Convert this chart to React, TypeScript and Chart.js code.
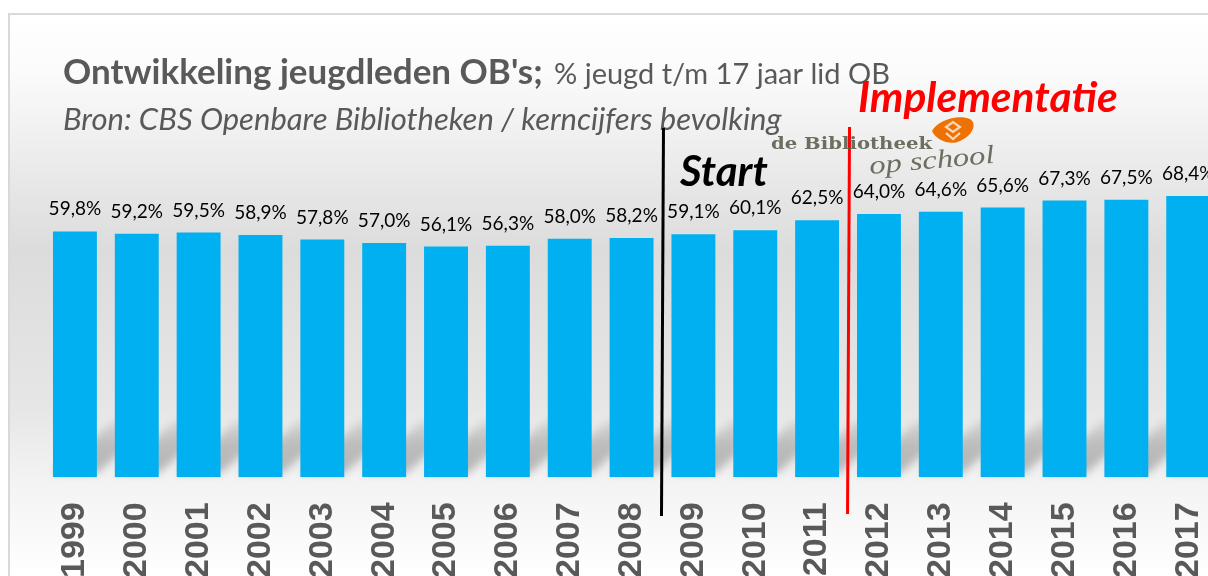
import React, { useEffect, useRef } from "react";
import { Chart, registerables } from "chart.js";

Chart.register(...registerables);

const years = ["1999","2000","2001","2002","2003","2004","2005","2006","2007","2008","2009","2010","2011","2012","2013","2014","2015","2016","2017"];
const percentages = [59.8,59.2,59.5,58.9,57.8,57.0,56.1,56.3,58.0,58.2,59.1,60.1,62.5,64.0,64.6,65.6,67.3,67.5,68.4];
const titleBold = "Ontwikkeling jeugdleden OB's;";
const titleLight = "% jeugd t/m 17 jaar lid OB";
const sourceLine = "Bron: CBS Openbare Bibliotheken / kerncijfers bevolking";
const startLabel = "Start";
const implementationLabel = "Implementatie";
const logoName = "de Bibliotheek";
const logoSub = "op school";
const startLinePosition = 9.5;
const implementationLinePosition = 12.5;

const SANS = "Lato, 'Open Sans', sans-serif";

const decorations = {
  id: "decorations",
  beforeDraw(chart: any) {
    const { ctx } = chart;
    ctx.save();
    ctx.fillStyle = "#ffffff";
    ctx.fillRect(0, 0, chart.width, chart.height);
    const g = ctx.createLinearGradient(0, 15, 0, 576);
    g.addColorStop(0, "#ffffff");
    g.addColorStop(0.1, "#fbfbfb");
    g.addColorStop(0.42, "#dcdcdc");
    g.addColorStop(0.7, "#e6e6e6");
    g.addColorStop(0.83, "#f3f3f3");
    g.addColorStop(1, "#ffffff");
    ctx.fillStyle = g;
    ctx.fillRect(9, 14, chart.width, chart.height);
    ctx.strokeStyle = "#d9d9d9";
    ctx.lineWidth = 2;
    ctx.beginPath();
    ctx.moveTo(9, chart.height);
    ctx.lineTo(9, 14);
    ctx.lineTo(chart.width, 14);
    ctx.stroke();
    ctx.restore();
  },
  beforeDatasetsDraw(chart: any) {
    const { ctx } = chart;
    const bars = chart.getDatasetMeta(0).data;
    ctx.save();
    ctx.filter = "blur(4px)";
    bars.forEach((b: any) => {
      const left = b.x - b.width / 2;
      const right = b.x + b.width / 2;
      const g = ctx.createLinearGradient(0, b.base, 0, b.base - 56);
      g.addColorStop(0, "rgba(0,0,0,0.26)");
      g.addColorStop(0.6, "rgba(0,0,0,0.2)");
      g.addColorStop(1, "rgba(0,0,0,0.08)");
      ctx.fillStyle = g;
      ctx.beginPath();
      ctx.moveTo(left, b.base - 4);
      ctx.lineTo(right, b.base - 4);
      ctx.lineTo(right + 60, b.base - 56);
      ctx.lineTo(left + 60, b.base - 56);
      ctx.closePath();
      ctx.fill();
    });
    ctx.restore();
  },
  afterDatasetsDraw(chart: any) {
    const { ctx, scales } = chart;
    const bars = chart.getDatasetMeta(0).data;
    ctx.save();
    ctx.textBaseline = "alphabetic";
    ctx.textAlign = "center";
    ctx.fillStyle = "#000000";
    ctx.font = `19px ${SANS}`;
    bars.forEach((b: any, i: number) => {
      ctx.fillText(percentages[i].toFixed(1).replace(".", ",") + "%", b.x, b.y - 16);
    });

    ctx.textAlign = "left";
    ctx.fillStyle = "#595959";
    ctx.font = `bold 35px ${SANS}`;
    ctx.fillText(titleBold, 63, 84);
    ctx.font = `29px ${SANS}`;
    ctx.fillText(titleLight, 554, 84);
    ctx.font = `italic 31px ${SANS}`;
    ctx.fillText(sourceLine, 63, 130);

    const xStart = scales.x.getPixelForValue(startLinePosition);
    const xImpl = scales.x.getPixelForValue(implementationLinePosition);
    ctx.lineWidth = 3;
    ctx.strokeStyle = "#000000";
    ctx.beginPath();
    ctx.moveTo(xStart + 1, 128);
    ctx.lineTo(xStart - 1, 516);
    ctx.stroke();
    ctx.strokeStyle = "#ff0000";
    ctx.beginPath();
    ctx.moveTo(xImpl + 1.5, 127);
    ctx.lineTo(xImpl - 0.5, 514);
    ctx.stroke();

    ctx.fillStyle = "#000000";
    ctx.font = `italic bold 42px ${SANS}`;
    ctx.fillText(startLabel, 680, 186);
    ctx.fillStyle = "#ff0000";
    ctx.font = `italic bold 42.5px ${SANS}`;
    ctx.fillText(implementationLabel, 858, 112);

    ctx.save();
    ctx.translate(771, 149);
    ctx.scale(1.157, 1);
    ctx.fillStyle = "#6e6e60";
    ctx.font = "bold 17px 'DejaVu Serif', serif";
    ctx.fillText(logoName, 0, 0);
    ctx.restore();

    ctx.fillStyle = "#ee7203";
    ctx.beginPath();
    ctx.moveTo(932, 131);
    ctx.bezierCurveTo(938, 120, 958, 114, 970, 119);
    ctx.bezierCurveTo(978, 124, 972, 136, 960, 141);
    ctx.bezierCurveTo(950, 146, 936, 140, 932, 131);
    ctx.closePath();
    ctx.fill();
    ctx.strokeStyle = "#f7d9bd";
    ctx.lineWidth = 2.2;
    ctx.beginPath();
    ctx.moveTo(946, 127); ctx.lineTo(953, 122); ctx.lineTo(960, 127); ctx.lineTo(953, 132); ctx.closePath();
    ctx.moveTo(946, 133); ctx.lineTo(953, 139); ctx.lineTo(960, 133);
    ctx.stroke();

    ctx.save();
    ctx.translate(870, 174);
    ctx.rotate(-0.09);
    ctx.fillStyle = "#6e6e60";
    ctx.font = "italic 26px 'Liberation Serif', serif";
    ctx.scale(1.25, 1);
    ctx.fillText(logoSub, 0, 0);
    ctx.restore();
    ctx.restore();
  },
};

export default function App() {
  const ref = useRef<HTMLCanvasElement | null>(null);
  useEffect(() => {
    document.body.style.margin = "0";
    const chart = new Chart(ref.current!, {
      type: "bar",
      data: {
        labels: years,
        datasets: [{
          data: percentages,
          backgroundColor: "#00B0F0",
          borderWidth: 0,
          barPercentage: 0.71,
          categoryPercentage: 1,
        }],
      },
      options: {
        responsive: false,
        animation: false,
        layout: { padding: { left: 44, right: 0, top: 196, bottom: 0 } },
        plugins: { legend: { display: false }, title: { display: false }, tooltip: { enabled: false } },
        scales: {
          x: {
            grid: { display: false },
            border: { display: false },
            ticks: {
              minRotation: 90,
              maxRotation: 90,
              autoSkip: false,
              padding: 17,
              color: "#595959",
              font: { family: "'Liberation Sans', Arial, sans-serif", size: 34, weight: "bold" },
            },
          },
          y: { display: false, min: 0, max: 68.4 },
        },
      },
      plugins: [decorations],
    } as any);
    return () => chart.destroy();
  }, []);
  return (
    <div style={{ width: 1208, height: 576, overflow: "hidden", position: "relative" }}>
      <canvas ref={ref} width={1246} height={595} style={{ display: "block" }} />
    </div>
  );
}
